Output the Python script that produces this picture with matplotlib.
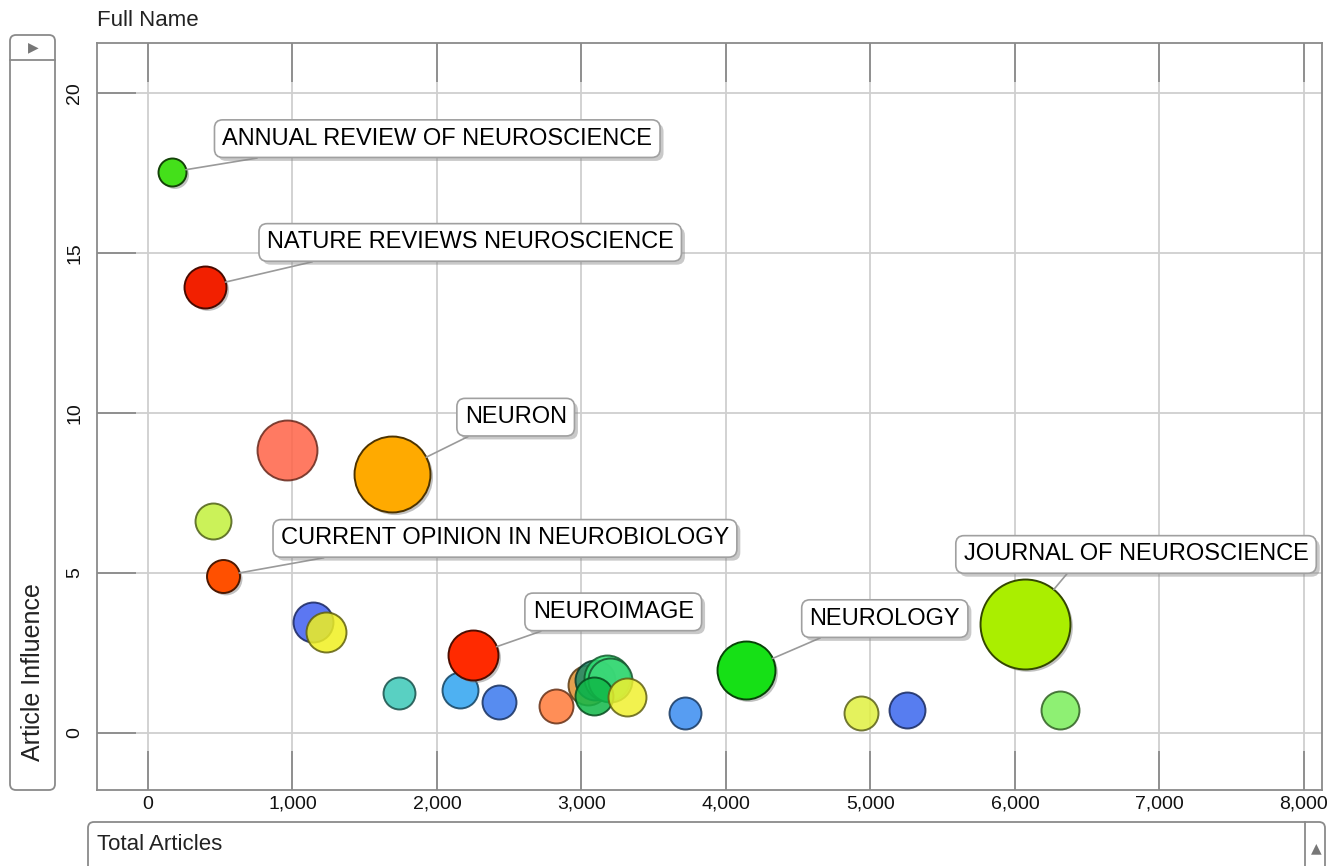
import matplotlib
matplotlib.use('Agg')
import matplotlib.pyplot as plt
import numpy as np
from matplotlib.patches import FancyBboxPatch
from matplotlib.lines import Line2D
from matplotlib.transforms import offset_copy, IdentityTransform
import matplotlib.patheffects as pe
import matplotlib.colors as mcolors
from matplotlib.ticker import FuncFormatter

plt.rcParams['font.family'] = ['Liberation Sans', 'DejaVu Sans']

# ---------------- data ----------------
total_articles = [166, 394, 962, 1689, 450, 519, 1142, 1232, 1737, 2159, 2249, 2429,
                  2824, 3045, 3093, 3176, 3197, 3087, 3315, 3716, 4138, 4934, 5253,
                  6069, 6311]
article_influence = [17.53, 13.94, 8.84, 8.09, 6.63, 4.91, 3.47, 3.16, 1.25, 1.34, 2.44,
                     0.97, 0.84, 1.50, 1.66, 1.72, 1.66, 1.16, 1.13, 0.63, 1.97, 0.63,
                     0.72, 3.41, 0.72]
size_metric = [1.96, 4.41, 9.0, 14.44, 3.24, 2.72, 4.0, 4.0, 2.56, 3.24, 6.25, 2.89,
               2.89, 4.0, 4.0, 5.29, 4.84, 3.61, 3.61, 2.56, 8.41, 2.89, 3.24, 20.25, 3.61]
colors = ['#44e01a', '#f22000', '#ff6347', '#ffaa00', '#c2f03c', '#ff5000', '#3f5ff0',
          '#f0f020', '#3cc8b8', '#2fa4f0', '#ff2a00', '#3a78ee', '#ff7a3a', '#e09030',
          '#1a8a6a', '#2ee070', '#3cd878', '#10b848', '#f0f030', '#3a8cf0', '#16e016',
          '#e0f040', '#3a66ee', '#aaee00', '#7aee5a']
labels = ['ANNUAL REVIEW OF NEUROSCIENCE', 'NATURE REVIEWS NEUROSCIENCE', '', 'NEURON', '',
          'CURRENT OPINION IN NEUROBIOLOGY', '', '', '', '', 'NEUROIMAGE', '', '', '', '',
          '', '', '', '', '', 'NEUROLOGY', '', '', 'JOURNAL OF NEUROSCIENCE', '']
x_ticks = [0, 1000, 2000, 3000, 4000, 5000, 6000, 7000, 8000]
y_ticks = [0, 5, 10, 15, 20]

# label offsets (points) for annotation boxes
label_offsets = {
    'ANNUAL REVIEW OF NEUROSCIENCE': (191, 24),
    'NATURE REVIEWS NEUROSCIENCE': (191, 32),
    'NEURON': (89, 41),
    'CURRENT OPINION IN NEUROBIOLOGY': (203, 27),
    'NEUROIMAGE': (101, 31),
    'NEUROLOGY': (100, 37),
    'JOURNAL OF NEUROSCIENCE': (80, 50),
}

# ---------------- figure ----------------
W, H = 1340, 866
fig = plt.figure(figsize=(W / 100, H / 100), dpi=100)
ax = fig.add_axes([97 / W, 1 - 790 / H, (1322 - 97) / W, (790 - 43) / H])
ax.set_xlim(-353, 8125)
ax.set_ylim(-1.78, 21.56)
ax.set_xticks(x_ticks)
ax.set_yticks(y_ticks)
ax.xaxis.set_major_formatter(FuncFormatter(lambda v, p: f'{int(v):,}'))
ax.grid(True, color='#cfcfcf', lw=1.3, zorder=0)
ax.set_axisbelow(True)
ax.tick_params(direction='in', length=28, width=1.3, color='#8a8a8a',
               top=True, bottom=True, left=True, right=False,
               labelsize=14, labelcolor='#111111')
ax.tick_params(axis='x', pad=4)
ax.tick_params(axis='y', pad=10, labelrotation=90)
for lab in ax.get_yticklabels():
    lab.set_va('center')
for sp in ax.spines.values():
    sp.set_color('#8a8a8a')
    sp.set_linewidth(1.3)

scale = 207.0
x = np.array(total_articles)
y = np.array(article_influence)
v = np.array(size_metric)
s = scale * v
has_label = np.array([bool(l) for l in labels])


def darker(c, f=0.45):
    r, g, b = mcolors.to_rgb(c)
    return (r * f, g * f, b * f)


# unlabeled bubbles first
for i in np.where(~has_label)[0]:
    ax.scatter(x[i], y[i], s=s[i], color=colors[i], alpha=0.85,
               edgecolors=[darker(colors[i], 0.4)], linewidths=1.4, zorder=3)

# shadows for labeled bubbles
shadow_tr = offset_copy(ax.transData, fig=fig, x=3, y=-3, units='dots')
idx = np.where(has_label)[0]
ax.scatter(x[idx], y[idx], s=s[idx], color='#777777', alpha=0.45, linewidths=0,
           transform=shadow_tr, zorder=4)
for i in idx:
    ax.scatter(x[i], y[i], s=s[i], color=colors[i], alpha=1.0,
               edgecolors=[darker(colors[i], 0.3)], linewidths=1.4, zorder=5)

# labels
for i in idx:
    lab = labels[i]
    dx, dy = label_offsets[lab]
    r_pt = np.sqrt(s[i]) / 2
    relx = 0.32 if lab.startswith('JOURNAL') else 0.2
    ann = ax.annotate(lab, xy=(x[i], y[i]), xytext=(dx, dy), textcoords='offset points',
                      ha='center', va='center', fontsize=17, color='#000000',
                      bbox=dict(boxstyle='round,pad=0.33,rounding_size=0.35', fc='white',
                                ec='#a0a0a0', lw=1.2),
                      arrowprops=dict(arrowstyle='-', color='#9a9a9a', lw=1.2,
                                      shrinkA=0, shrinkB=r_pt, relpos=(relx, 0)),
                      zorder=6)
    ann.get_bbox_patch().set_path_effects(
        [pe.withSimplePatchShadow(offset=(2.5, -2.5), shadow_rgbFace='#888888', alpha=0.45)])

# ---------------- surrounding UI ----------------
idt = IdentityTransform()
fig.text(97 / W, 1 - 20 / H, 'Full Name', fontsize=16, ha='left', va='center',
         color='#222222')

left_box = FancyBboxPatch((10, H - 790), 45, 755, boxstyle='round,pad=0,rounding_size=6',
                          fc='white', ec='#8a8a8a', lw=1.3, transform=idt)
fig.add_artist(left_box)
fig.add_artist(Line2D([10, 55], [H - 60, H - 60], color='#8a8a8a', lw=1.3, transform=idt))
fig.text(33 / W, 1 - 47 / H, '▶', fontsize=10, ha='center', va='center', color='#777777',
         family=['DejaVu Sans'])
fig.text(33 / W, 1 - 672 / H, 'Article Influence', fontsize=18, rotation=90,
         ha='center', va='center', color='#222222')

bottom_box = FancyBboxPatch((88, H - 880), 1237, 58, boxstyle='round,pad=0,rounding_size=6',
                            fc='white', ec='#8a8a8a', lw=1.3, transform=idt)
fig.add_artist(bottom_box)
fig.add_artist(Line2D([1305, 1305], [0, H - 822], color='#8a8a8a', lw=1.3, transform=idt))
fig.text(1316 / W, 1 - 848 / H, '▲', fontsize=10, ha='center', va='center', color='#777777',
         family=['DejaVu Sans'])
fig.text(97 / W, 1 - 845 / H, 'Total Articles', fontsize=16, ha='left', va='center',
         color='#222222')

fig.savefig('out.png', dpi=100)
